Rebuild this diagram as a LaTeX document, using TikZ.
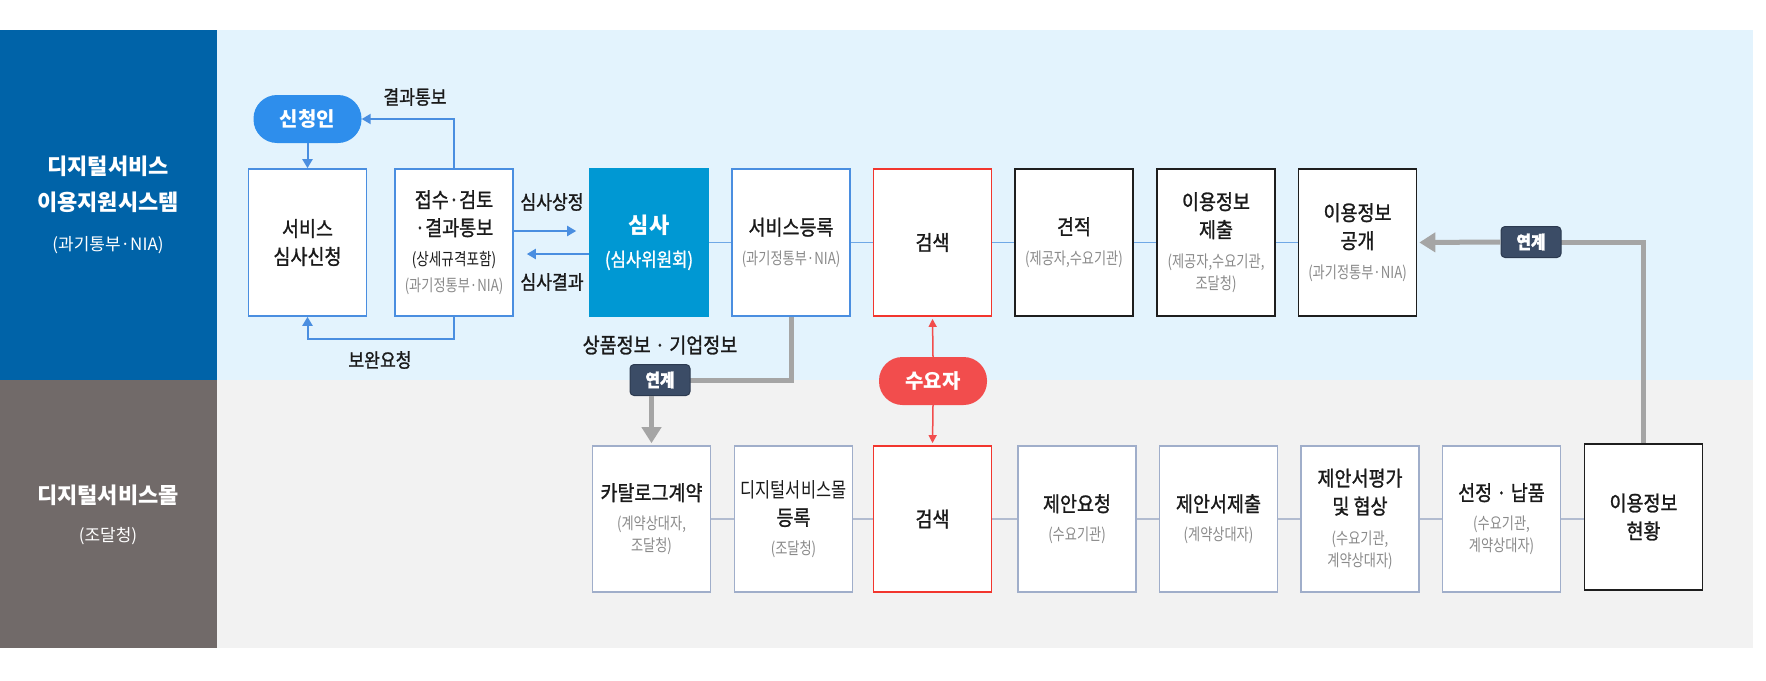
\documentclass[tikz,border=0pt]{standalone}
\usepackage{fontspec}
\setmainfont{Noto Sans CJK KR}
\newfontfamily\krfont{Noto Sans CJK KR}
\newfontfamily\krcond[FakeStretch=0.88,FakeBold=1.2]{Noto Sans CJK KR}
\newfontfamily\krnarrow[FakeStretch=0.8]{Noto Sans CJK KR}
\usetikzlibrary{arrows.meta}
\definecolor{panelblue}{HTML}{0063A8}
\definecolor{panelgray}{HTML}{716A69}
\definecolor{lightbg}{HTML}{E3F3FD}
\definecolor{graybg}{HTML}{F2F2F2}
\definecolor{boxblue}{HTML}{4A8EE0}
\definecolor{committeeblue}{HTML}{0098D3}
\definecolor{pillblue}{HTML}{2E8EEC}
\definecolor{boxred}{HTML}{F2362E}
\definecolor{pillred}{HTML}{F24D4D}
\definecolor{boxblack}{HTML}{1E1E1E}
\definecolor{mallgray}{HTML}{A0AECA}
\definecolor{linkgray}{HTML}{A5A5A5}
\definecolor{badgefill}{HTML}{3B4C66}
\definecolor{badgeline}{HTML}{2C3A50}
\definecolor{topblue}{HTML}{6FA8E6}
\definecolor{botgray}{HTML}{B2BCD0}
\definecolor{subgray}{HTML}{8A8A8A}
\definecolor{textblack}{HTML}{1A1A1A}
\newcommand{\subtxt}[1]{{\krnarrow\fontsize{16.5}{22}\selectfont\color{subgray}#1}}
\begin{document}
\begin{tikzpicture}[x=1pt,y=-1pt,
  bluebox/.style={draw=boxblue,line width=1.6pt,fill=white,minimum width=118pt,minimum height=147pt,inner sep=0pt,align=center,text=textblack,font=\krcond\fontsize{21}{28}\selectfont},
  redbox/.style={bluebox,draw=boxred,line width=1.8pt},
  blackbox/.style={bluebox,draw=boxblack},
  mallbox/.style={bluebox,draw=mallgray,minimum height=146pt},
  pill/.style={rounded corners=23.5pt,minimum width=108pt,minimum height=48pt,inner sep=0pt,text=white,font=\krfont\bfseries\fontsize{20}{24}\selectfont},
  badge/.style={draw=badgeline,fill=badgefill,rounded corners=4pt,line width=1pt,minimum width=60pt,minimum height=31pt,inner sep=0pt,text=white,font=\krcond\bfseries\fontsize{18}{20}\selectfont},
  flowlabel/.style={text=textblack,font=\krcond\fontsize{19.5}{22}\selectfont},
  flow/.style={line width=2pt,draw=boxblue,-{Triangle[length=9pt,width=10pt]}},
  linkline/.style={line width=5pt,draw=linkgray},
  linkarrow/.style={linkline,-{Triangle[length=16pt,width=19pt]}},
  demand/.style={line width=1.5pt,draw=pillred,-{Triangle[length=8pt,width=8pt]}},
  topline/.style={line width=1pt,draw=topblue},
  botline/.style={line width=1.2pt,draw=botgray}]
\useasboundingbox (0,0) rectangle (1766,680);
% backgrounds
\fill[panelblue] (0,30) rectangle (217,380);
\fill[panelgray] (0,380) rectangle (217,648);
\fill[lightbg] (217,30) rectangle (1753,380);
\fill[graybg] (217,380) rectangle (1753,648);
\node[align=center,text=white,font=\krfont\bfseries\fontsize{22}{36}\selectfont] at (108,205) (systitle) {디지털서비스\\이용지원시스템\\[4pt]{\mdseries\fontsize{17}{20}\selectfont (과기통부·NIA)}};
\node[align=center,text=white,font=\krfont\bfseries\fontsize{22}{36}\selectfont] at (108,515) (malltitle) {디지털서비스몰\\[2pt]{\mdseries\fontsize{17}{20}\selectfont (조달청)}};
% upper row
\node[pill,fill=pillblue] at (307.5,119) (applicant) {신청인};
\node[bluebox] at (307.5,242.5) (apply) {서비스\\심사신청};
\node[bluebox] at (454,242.5) (review) {접수·검토\\·결과통보\\[2pt]{\krnarrow\fontsize{17}{22}\selectfont (상세규격포함)}\\[-2pt]\subtxt{(과기정통부·NIA)}};
\node[bluebox,draw=committeeblue,fill=committeeblue,text=white] at (649,242.5) (committee) {{\krfont\bfseries\fontsize{22}{28}\selectfont 심사}\\[5pt]{\fontsize{19}{22}\selectfont (심사위원회)}};
\node[bluebox] at (791,242.5) (register) {서비스등록\\[1pt]\subtxt{(과기정통부·NIA)}};
\node[redbox] at (932.5,242.5) (search) {검색};
\node[blackbox] at (1074,242.5) (estimate) {견적\\[2pt]\subtxt{(제공자,수요기관)}};
\node[blackbox] at (1216,242.5) (submit) {이용정보\\제출\\[2pt]\subtxt{(제공자,수요기관,}\\[-6pt]\subtxt{조달청)}};
\node[blackbox] at (1357.5,242.5) (publish) {이용정보\\공개\\[2pt]\subtxt{(과기정통부·NIA)}};
% lower row
\node[mallbox] at (651.5,519) (catalog) {카탈로그계약\\[1pt]\subtxt{(계약상대자,}\\[-6pt]\subtxt{조달청)}};
\node[mallbox] at (793.5,519) (mallreg) {{\fontsize{20.5}{28}\krnarrow\selectfont 디지털서비스몰}\\등록\\[1pt]\subtxt{(조달청)}};
\node[redbox,minimum height=146pt] at (932.5,519) (msearch) {검색};
\node[mallbox] at (1077,519) (request) {제안요청\\[1pt]\subtxt{(수요기관)}};
\node[mallbox] at (1218.5,519) (proposal) {제안서제출\\[1pt]\subtxt{(계약상대자)}};
\node[mallbox] at (1360,519) (evaluate) {제안서평가\\및 협상\\[2pt]\subtxt{(수요기관,}\\[-6pt]\subtxt{계약상대자)}};
\node[mallbox] at (1501.5,519) (select) {선정 · 납품\\[1pt]\subtxt{(수요기관,}\\[-6pt]\subtxt{계약상대자)}};
\node[mallbox,draw=boxblack] at (1643.5,517) (status) {이용정보\\현황};
% review loop
\draw[flow] (applicant) -- (applicant |- apply.north);
\draw[flow] (review.north) |- (applicant.east);
\draw[flow] (review.south) -- ++(0,22) -| (apply.south);
\node[flowlabel] at (415,97) (notice) {결과통보};
\node[flowlabel] at (380,360) (supplement) {보완요청};
\draw[flow] (review.east |- 0,231) -- ([xshift=-13pt]committee.west |- 0,231);
\draw[flow] (committee.west |- 0,254) -- ([xshift=13pt]review.east |- 0,254);
\node[flowlabel] at (552,202) (submitlab) {심사상정};
\node[flowlabel] at (552,282) (resultlab) {심사결과};
% upper connectors
\draw[topline] (committee.east) -- (register.west);
\draw[topline] (register.east) -- (search.west);
\draw[topline] (search.east) -- (estimate.west);
\draw[topline] (estimate.east) -- (submit.west);
\draw[topline] (submit.east) -- (publish.west);
% lower connectors
\draw[botline] (catalog.east) -- (mallreg.west);
\draw[botline] (mallreg.east) -- (msearch.west);
\draw[botline] (msearch.east) -- (request.west);
\draw[botline] (request.east) -- (proposal.west);
\draw[botline] (proposal.east) -- (evaluate.west);
\draw[botline] (evaluate.east) -- (select.west);
\draw[botline] (select.east) -- (status.west |- select.east);
% links between systems
\node[flowlabel,font=\krcond\fontsize{21}{24}\selectfont] at (660,345) (infolab) {상품정보 · 기업정보};
\draw[linkline] (register.south) |- (660,380);
\node[badge] at (660,380) (link1) {연계};
\draw[linkarrow,shorten >=2pt] (catalog.north |- link1.south) -- (catalog.north);
\draw[linkline] (status.north) |- (1531,242);
\node[badge] at (1531,242) (link2) {연계};
\draw[linkarrow,shorten >=2pt] (link2.west) -- (publish.east);
% demand side
\node[pill,fill=pillred] at (933,381) (buyer) {수요자};
\draw[demand,shorten >=2pt] (buyer.north) -- (search.south);
\draw[demand,shorten >=2pt] (buyer.south) -- (msearch.north);
\end{tikzpicture}
\end{document}
